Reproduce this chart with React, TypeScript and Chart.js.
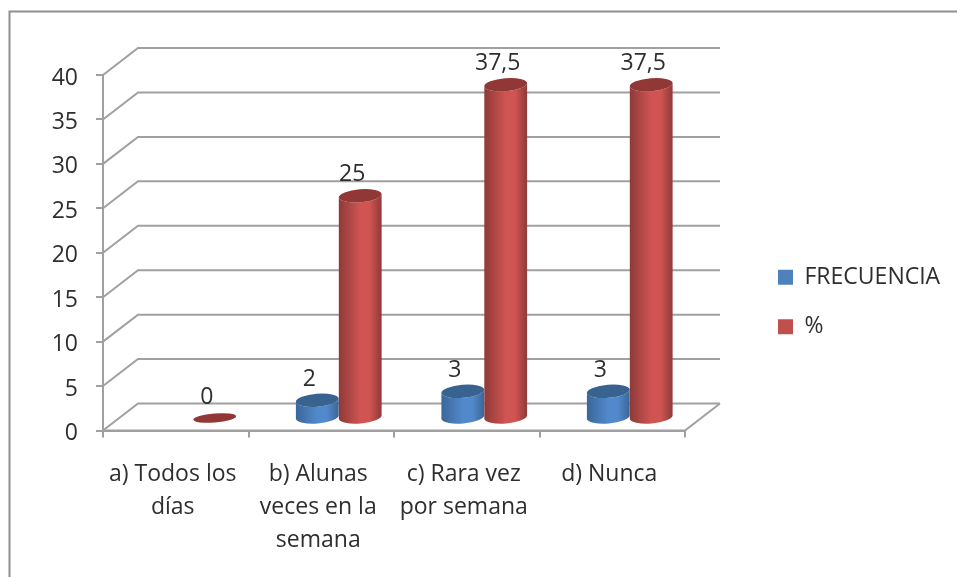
import React, { useEffect, useRef } from "react";
import { Chart, registerables } from "chart.js";

Chart.register(...registerables);

const categories = [
  ["a) Todos los", "días"],
  ["b) Alunas", "veces en la", "semana"],
  ["c) Rara vez", "por semana"],
  ["d) Nunca"],
];
const frecuencia = [null, 2, 3, 3];
const porcentaje = [0, 25, 37.5, 37.5];

const FONT = "'Open Sans', sans-serif";
const TEXT = "#2e2e2e";
const GRID = "#a0a0a0";
const DX = 35;
const DY = -27;
const BAR_DX = 17.5;
const BAR_DY = -12.5;

const palettes = [
  { edge: "#3a6698", mid: "#5289cc", top: "#38628f", legend: "#4f81bd" },
  { edge: "#8e3a38", mid: "#cf5452", top: "#913836", legend: "#c0504d" },
];

const walls = {
  id: "walls",
  beforeDatasetsDraw(chart: any) {
    const { ctx, chartArea, scales } = chart;
    const { left, right, bottom } = chartArea;
    ctx.save();
    ctx.strokeStyle = GRID;
    ctx.lineWidth = 2;
    ctx.lineJoin = "miter";
    for (const t of scales.y.ticks) {
      const y = scales.y.getPixelForValue(t.value);
      ctx.beginPath();
      ctx.moveTo(left, y);
      ctx.lineTo(left + DX, y + DY);
      ctx.lineTo(right + DX, y + DY);
      ctx.stroke();
    }
    ctx.beginPath();
    ctx.moveTo(left, bottom);
    ctx.lineTo(right, bottom);
    ctx.lineTo(right + DX, bottom + DY);
    ctx.stroke();
    ctx.restore();
  },
};

function drawCylinders(chart: any, index: number) {
  const { ctx } = chart;
  const p = palettes[index];
  const rot = -0.08;
  const ry = 6.5;
  const values = chart.data.datasets[index].data;
  chart.getDatasetMeta(index).data.forEach((el: any, j: number) => {
    if (values[j] == null) return;
    const cx = el.x + BAR_DX;
    const topY = el.y + BAR_DY;
    const baseY = el.base + BAR_DY;
    const rx = el.width / 2;
    if (baseY - topY > 0.5) {
      const g = ctx.createLinearGradient(cx - rx, 0, cx + rx, 0);
      g.addColorStop(0, p.edge);
      g.addColorStop(0.5, p.mid);
      g.addColorStop(0.72, p.mid);
      g.addColorStop(1, p.edge);
      ctx.fillStyle = g;
      ctx.beginPath();
      ctx.ellipse(cx, baseY, rx, ry, rot, 0, Math.PI);
      ctx.ellipse(cx, topY, rx, ry, rot, Math.PI, 0, true);
      ctx.closePath();
      ctx.fill();
    }
    ctx.fillStyle = p.top;
    ctx.beginPath();
    if (baseY - topY > 0.5) {
      ctx.ellipse(cx, topY, rx, ry, rot, 0, Math.PI * 2);
    } else {
      ctx.ellipse(cx, topY, rx, ry - 2, rot, 0, Math.PI * 2);
    }
    ctx.fill();
  });
}

const cylinders = {
  id: "cylinders",
  beforeDatasetDraw() {
    return false;
  },
  afterDatasetsDraw(chart: any) {
    const { ctx } = chart;
    ctx.save();
    drawCylinders(chart, 0);
    drawCylinders(chart, 1);
    ctx.restore();
  },
};

const valueLabels = {
  id: "valueLabels",
  afterDatasetsDraw(chart: any) {
    const { ctx } = chart;
    ctx.save();
    ctx.font = `23px ${FONT}`;
    ctx.fillStyle = TEXT;
    ctx.textAlign = "center";
    ctx.textBaseline = "middle";
    chart.data.datasets.forEach((ds: any, i: number) => {
      chart.getDatasetMeta(i).data.forEach((el: any, j: number) => {
        const v = ds.data[j];
        if (v == null) return;
        ctx.fillText(String(v).replace(".", ","), el.x + BAR_DX - 8, el.y + BAR_DY - 21);
      });
    });
    ctx.restore();
  },
};

const frame = {
  id: "frame",
  beforeDraw(chart: any) {
    const { ctx } = chart;
    ctx.save();
    ctx.strokeStyle = "#8f8f8f";
    ctx.lineWidth = 2;
    ctx.strokeRect(9.5, 11.5, 1200, 800);
    ctx.restore();
  },
};

const legendPlace = {
  id: "legendPlace",
  beforeLayout(chart: any) {
    const legend = chart.legend;
    if (legend && !legend.__patched) {
      legend.__patched = true;
      const fit = legend.fit;
      legend.fit = function () {
        fit.call(this);
        this.width = 272;
      };
    }
  },
  afterLayout(chart: any) {
    const legend = chart.legend;
    legend.left = 778 - legend.options.labels.padding;
    legend.right = 957;
    legend.top = 232;
    legend.bottom = 372;
  },
};

export default function App() {
  const ref = useRef<HTMLCanvasElement | null>(null);
  useEffect(() => {
    const chart = new Chart(ref.current as HTMLCanvasElement, {
      type: "bar",
      data: {
        labels: categories as any,
        datasets: [
          {
            label: "FRECUENCIA",
            data: frecuencia,
            backgroundColor: palettes[0].legend,
            borderWidth: 0,
            categoryPercentage: 0.59,
            barPercentage: 1,
          },
          {
            label: "%",
            data: porcentaje,
            backgroundColor: palettes[1].legend,
            borderWidth: 0,
            categoryPercentage: 0.59,
            barPercentage: 1,
          },
        ],
      } as any,
      options: {
        animation: false,
        responsive: false,
        layout: { padding: { top: 75, left: 0, right: 0, bottom: 0 } },
        plugins: {
          title: { display: false },
          tooltip: { enabled: false },
          legend: {
            display: true,
            position: "right",
            labels: {
              boxWidth: 15,
              boxHeight: 15,
              padding: 26.4,
              color: TEXT,
              font: { family: FONT, size: 23 },
            },
          },
        },
        scales: {
          x: {
            afterFit(scale: any) {
              scale.height = 146.5;
            },
            grid: { drawOnChartArea: false, drawTicks: true, tickLength: 7, color: GRID, lineWidth: 2 },
            border: { display: true, color: GRID, width: 2 },
            ticks: {
              autoSkip: false,
              maxRotation: 0,
              minRotation: 0,
              padding: 20,
              labelOffset: -3,
              color: TEXT,
              font: { family: FONT, size: 23, lineHeight: 1.435 },
            },
          },
          y: {
            min: 0,
            max: 40,
            afterFit(scale: any) {
              scale.width = 103;
            },
            grid: { drawOnChartArea: false, drawTicks: true, tickLength: 7, color: GRID, lineWidth: 2 },
            border: { display: true, color: GRID, width: 2 },
            ticks: {
              stepSize: 5,
              padding: 18,
              labelOffset: 3,
              color: TEXT,
              font: { family: FONT, size: 23 },
            },
          },
        },
      } as any,
      plugins: [frame, walls, cylinders, valueLabels, legendPlace],
    });
    return () => chart.destroy();
  }, []);
  return (
    <canvas
      ref={ref}
      width={957}
      height={577}
      style={{ position: "absolute", left: 0, top: 0, width: 957, height: 577, display: "block", filter: "blur(0.6px)" }}
    />
  );
}
